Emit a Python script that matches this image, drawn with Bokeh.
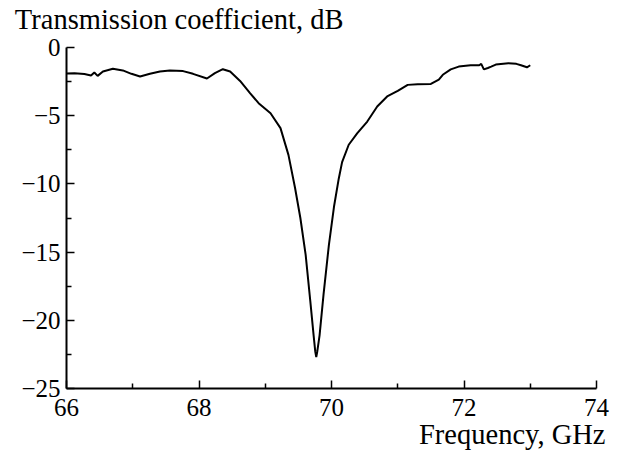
from bokeh.plotting import figure
from bokeh.models import Range1d, FixedTicker, Title, LinearAxis
from bokeh.embed import file_html
from bokeh.resources import INLINE

freq_ghz = [66.00, 66.12, 66.27, 66.37, 66.42, 66.47, 66.55, 66.70, 66.85, 66.98,
            67.11, 67.26, 67.41, 67.56, 67.76, 67.91, 68.12, 68.24, 68.36, 68.47,
            68.62, 68.77, 68.90, 69.08, 69.23, 69.35, 69.45, 69.53, 69.61, 69.68,
            69.73, 69.755, 69.77, 69.785, 69.82, 69.88, 69.96, 70.04, 70.11, 70.16,
            70.26, 70.39, 70.54, 70.69, 70.84, 71.00, 71.15, 71.30, 71.50, 71.62,
            71.68, 71.80, 71.92, 72.10, 72.23, 72.26, 72.30, 72.36, 72.41, 72.48,
            72.67, 72.79, 72.86, 72.95, 73.00]
trans_db = [-1.90, -1.88, -1.95, -2.05, -1.83, -2.08, -1.76, -1.56, -1.68, -1.93,
            -2.13, -1.93, -1.76, -1.68, -1.73, -1.93, -2.27, -1.88, -1.59, -1.76,
            -2.45, -3.35, -4.08, -4.82, -5.91, -7.87, -10.3, -12.5, -15.2, -18.6,
            -21.1, -22.3, -22.7, -22.3, -21.1, -18.1, -14.5, -11.6, -9.60, -8.40,
            -7.13, -6.28, -5.43, -4.33, -3.59, -3.18, -2.74, -2.70, -2.67, -2.35,
            -2.00, -1.60, -1.40, -1.30, -1.30, -1.20, -1.60, -1.50, -1.40, -1.25,
            -1.15, -1.20, -1.30, -1.45, -1.30]

x_ticks = [66, 68, 70, 72, 74]
y_ticks = [0, -5, -10, -15, -20, -25]
x_minor = [67, 69, 71, 73]
y_minor = [-2.5, -7.5, -12.5, -17.5, -22.5]
y_title = "Transmission coefficient, dB"
x_title = "Frequency, GHz"

FONT = "Liberation Serif"
FS = "25px"
TFS = "28.5px"

p = figure(output_backend="svg", toolbar_location=None,
           x_range=Range1d(66, 74), y_range=Range1d(-25, 0),
           frame_width=530, frame_height=341,
           min_border_left=66, min_border_right=18, min_border_top=46, min_border_bottom=63)
p.grid.visible = False
p.outline_line_color = None
p.background_fill_color = "white"
p.border_fill_color = "white"

p.line(freq_ghz, trans_db, line_color="black", line_width=2)

for ax, ticks, minor in ((p.xaxis[0], x_ticks, x_minor), (p.yaxis[0], y_ticks, y_minor)):
    ax.ticker = FixedTicker(ticks=ticks, minor_ticks=minor)
    ax.major_label_overrides = {t: (str(t).replace("-", "\u2212")) for t in ticks}
    ax.axis_line_width = 2
    ax.axis_line_color = "black"
    ax.major_tick_in = 8
    ax.major_tick_out = 0
    ax.minor_tick_in = 5
    ax.minor_tick_out = 0
    ax.major_tick_line_width = 1.5
    ax.minor_tick_line_width = 1.5
    ax.major_tick_line_color = "black"
    ax.minor_tick_line_color = "black"
    ax.major_label_text_font = FONT
    ax.major_label_text_font_size = FS
    ax.major_label_text_color = "black"

p.xaxis[0].major_label_standoff = 10
p.yaxis[0].major_label_standoff = 6

# y-quantity title placed above the top-left corner of the frame
top_pos = 67.70
top_axis = LinearAxis(ticker=FixedTicker(ticks=[top_pos], minor_ticks=[]),
                      major_label_overrides={top_pos: y_title},
                      axis_line_color=None, major_tick_line_color=None,
                      minor_tick_line_color=None, major_tick_in=0, major_tick_out=0,
                      minor_tick_in=0, minor_tick_out=0, major_label_standoff=13,
                      major_label_text_font=FONT, major_label_text_font_size=TFS,
                      major_label_text_color="black")
p.add_layout(top_axis, "above")

p.add_layout(Title(text=x_title, align="right", offset=-9,
                   standoff=-3, text_font=FONT, text_font_size=TFS,
                   text_font_style="normal", text_color="black"), "below")

open("out.html", "w").write(file_html(p, INLINE))
